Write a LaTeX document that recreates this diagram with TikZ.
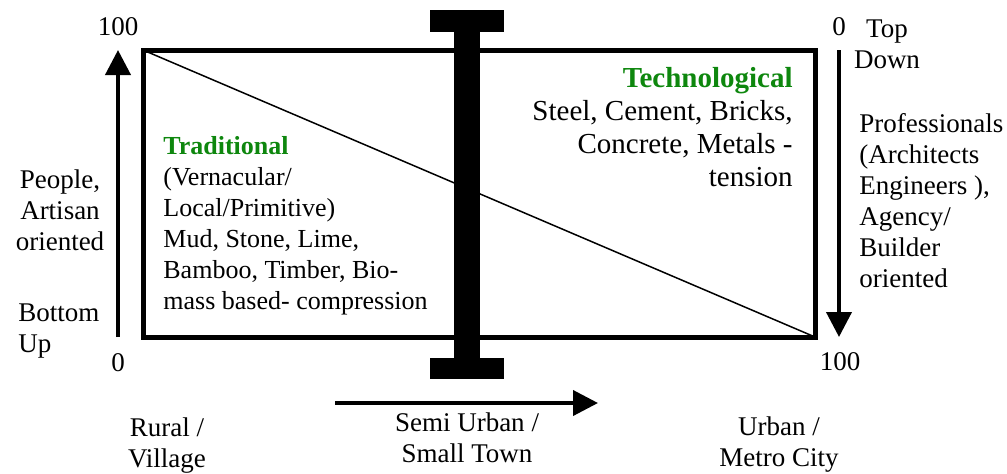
\documentclass[tikz,border=0pt]{standalone}
\usepackage{fontspec}
\setmainfont{Liberation Serif}
\usetikzlibrary{arrows.meta,positioning}
\definecolor{tradgreen}{HTML}{0E870E}
\tikzset{
  frame/.style={draw=black,line width=2.5pt},
  diag/.style={draw=black,line width=0.75pt},
  axisarrow/.style={-{Triangle[length=12.5pt,width=12.5pt]},line width=2pt},
  txt/.style={font=\fontsize{13.5}{15.5}\selectfont,inner sep=0pt,align=center},
  txtleft/.style={font=\fontsize{13}{15.5}\selectfont,inner sep=0pt},
  txtwide/.style={font=\fontsize{14.5}{16.5}\selectfont,inner sep=0pt}
}
\begin{document}
\begin{tikzpicture}[x=0.5pt,y=-0.5pt]
  \useasboundingbox (0,0) rectangle (1007,473);
  % frame with diagonal
  \coordinate (tl) at (143,50);
  \coordinate (br) at (815,337);
  \draw[frame] (tl) rectangle (br);
  \draw[diag] (tl) -- (br);
  % I-beam (semi urban divide)
  \fill (430,10) rectangle (504,32);
  \fill (454,32) rectangle (480,358);
  \fill (430,358) rectangle (504,379);
  % axes
  \coordinate (lbot) at (118,337);
  \coordinate (ltop) at (118,50);
  \coordinate (rtop) at (839,50);
  \coordinate (rbot) at (839,337);
  \coordinate (bleft) at (335,403);
  \coordinate (bright) at (598,403);
  \draw[axisarrow] (lbot) -- (ltop);
  \draw[axisarrow] (rtop) -- (rbot);
  \draw[axisarrow] (bleft) -- (bright);
  % scale ends
  \node[txt] (ltopnum) at (118,27) {100};
  \node[txt] (lbotnum) at (118,363) {0};
  \node[txt] (rtopnum) at (839,27) {0};
  \node[txt] (rbotnum) at (840,362) {100};
  % left side
  \node[txt] (people) at (60,210) {People,\\Artisan\\oriented};
  \node[txt,align=left,anchor=west] (bottomup) at (18,331) {Bottom\\Up};
  % right side
  \node[txt] (topdown) at (887,44) {Top\\Down};
  \node[txt,align=left,anchor=west] (prof) at (859,201)
    {Professionals\\(Architects\\Engineers ),\\Agency/\\Builder\\oriented};
  % inside the frame
  \node[txtleft,align=left,anchor=west] (trad) at (163,226)
    {{\bfseries\color{tradgreen}Traditional}\\(Vernacular/\\Local/Primitive)\\Mud, Stone, Lime,\\Bamboo, Timber, Bio-\\mass based- compression};
  \node[txtwide,align=right,anchor=east] (tech) at (793,127)
    {{\bfseries\color{tradgreen}Technological}\\Steel, Cement, Bricks,\\Concrete, Metals -\\tension};
  % settlement scale
  \node[txt] (rural) at (167,446) {Rural /\\Village};
  \node[txt] (semi) at (467,438) {Semi Urban /\\Small Town};
  \node[txt] (urban) at (779,445) {Urban /\\Metro City};
\end{tikzpicture}
\end{document}
